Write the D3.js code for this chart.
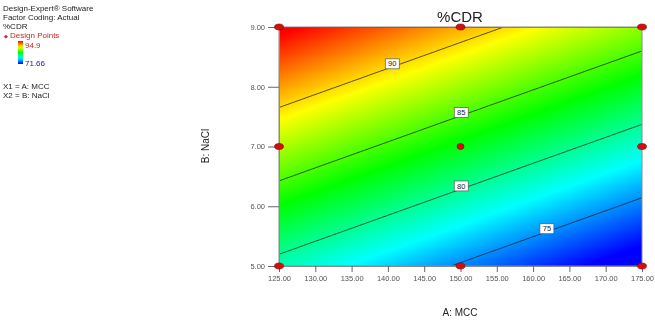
<!DOCTYPE html>
<html><head><meta charset="utf-8">
<script src="https://cdn.jsdelivr.net/npm/d3@7"></script>
<style>
body{margin:0;background:#fff;}
#wrap{position:relative;width:655px;height:323px;}
canvas,svg{position:absolute;left:0;top:0;}
text{font-family:Arial,"Liberation Sans",sans-serif;}
</style></head>
<body><div id="wrap"><canvas id="cv" width="655" height="323"></canvas><svg id="sv" width="655" height="323"></svg></div>
<script>
// Data
const mccLevels = [125, 150, 175];          // A: MCC
const naclLevels = [5, 7, 9];               // B: NaCl
// predicted %CDR at grid (rows = NaCl 5,7,9; cols = MCC 125,150,175)
const predGrid = [
  [79.13, 74.70, 70.28],
  [87.27, 82.84, 78.42],
  [95.41, 90.98, 86.56]
];
const contourLevels = [75, 80, 85, 90];
const contourLabelMCC = [161.9, 150.1, 150.1, 140.6];
const designMCC  = [125, 125, 125, 150, 150, 150, 175, 175, 175];
const designNaCl = [5, 7, 9, 5, 7, 9, 5, 7, 9];
const xTicks = [125,130,135,140,145,150,155,160,165,170,175];
const yTicks = [5,6,7,8,9];
const rangeMin = 71.66, rangeMax = 94.9;

const L = 279, R = 642, T = 27, B = 266;
const x = d3.scaleLinear().domain([125,175]).range([L,R]);
const y = d3.scaleLinear().domain([5,9]).range([B,T]);
const hue = d3.scaleLinear().domain([rangeMin, rangeMax]).range([240, 0]).clamp(true);
const color = v => d3.hsl(hue(v), 1, 0.5).toString();

// bilinear interpolation on the read grid
function pred(a, b) {
  const i = Math.max(0, Math.min(mccLevels.length - 2, d3.bisectRight(mccLevels, a) - 1));
  const j = Math.max(0, Math.min(naclLevels.length - 2, d3.bisectRight(naclLevels, b) - 1));
  const tx = (a - mccLevels[i]) / (mccLevels[i+1] - mccLevels[i]);
  const ty = (b - naclLevels[j]) / (naclLevels[j+1] - naclLevels[j]);
  const z00 = predGrid[j][i], z10 = predGrid[j][i+1], z01 = predGrid[j+1][i], z11 = predGrid[j+1][i+1];
  return z00*(1-tx)*(1-ty) + z10*tx*(1-ty) + z01*(1-tx)*ty + z11*tx*ty;
}

// surface on canvas
const ctx = document.getElementById('cv').getContext('2d');
const img = ctx.createImageData(R - L, B - T);
for (let py = 0; py < B - T; py++) {
  for (let px = 0; px < R - L; px++) {
    const c = d3.rgb(color(pred(x.invert(L + px + 0.5), y.invert(T + py + 0.5))));
    const k = (py * (R - L) + px) * 4;
    img.data[k] = c.r; img.data[k+1] = c.g; img.data[k+2] = c.b; img.data[k+3] = 255;
  }
}
ctx.putImageData(img, L, T);

const svg = d3.select('#sv');

// contours
const nx = 201, ny = 161;
const vals = new Array(nx * ny);
for (let j = 0; j < ny; j++) for (let i = 0; i < nx; i++) {
  vals[j*nx + i] = pred(125 + 50 * i / (nx - 1), 9 - 4 * j / (ny - 1));
}
const contours = d3.contours().size([nx, ny]).thresholds(contourLevels).smooth(true)(vals);
const proj = d3.geoTransform({point: function(px, py) {
  this.stream.point(L + px / (nx - 1) * (R - L), T + py / (ny - 1) * (B - T));
}});
const path = d3.geoPath(proj);
svg.append('clipPath').attr('id','pc').append('rect')
  .attr('x', L + 0.5).attr('y', T + 0.5).attr('width', R - L - 1).attr('height', B - T - 1);
svg.append('g').attr('clip-path','url(#pc)').selectAll('path').data(contours).join('path')
  .attr('d', path).attr('fill','none').attr('stroke','#222').attr('stroke-width',0.8);

// contour labels
contourLevels.forEach((lv, k) => {
  const a = contourLabelMCC[k];
  let best = 5, bd = 1e9;
  for (let b = 5; b <= 9; b += 0.002) { const d = Math.abs(pred(a, b) - lv); if (d < bd) { bd = d; best = b; } }
  const g = svg.append('g').attr('transform', `translate(${x(a)},${y(best) - 2})`);
  g.append('rect').attr('x', -7).attr('y', -5).attr('width', 14).attr('height', 10)
    .attr('fill', '#fff').attr('stroke', '#555').attr('stroke-width', 0.7);
  g.append('text').attr('text-anchor','middle').attr('dy','0.35em')
    .attr('font-size', 7.5).attr('fill', '#222').text(lv);
});

// frame
svg.append('rect').attr('x', L).attr('y', T).attr('width', R - L).attr('height', B - T)
  .attr('fill','none').attr('stroke','#8a8a8a').attr('stroke-width',1);

// axes
const xa = svg.append('g').attr('transform', `translate(0,${B})`)
  .call(d3.axisBottom(x).tickValues(xTicks).tickFormat(d3.format('.2f')).tickSize(6).tickPadding(4));
const ya = svg.append('g').attr('transform', `translate(${L},0)`)
  .call(d3.axisLeft(y).tickValues(yTicks).tickFormat(d3.format('.2f')).tickSize(11).tickPadding(3));
[xa, ya].forEach(a => {
  a.select('.domain').attr('stroke','#8a8a8a');
  a.selectAll('.tick line').attr('stroke','#666');
  a.selectAll('.tick text').attr('fill','#555').attr('font-size', 7.5)
    .attr('font-family','Arial,"Liberation Sans",sans-serif');
});

// design points
svg.append('g').selectAll('ellipse').data(designMCC.map((m, i) => [m, designNaCl[i]])).join('ellipse')
  .attr('cx', d => x(d[0])).attr('cy', d => y(d[1]))
  .attr('rx', d => (d[0] === 150 && d[1] === 7) ? 3.5 : 4.5)
  .attr('ry', 3)
  .attr('fill', '#d01010').attr('stroke', '#8a0000').attr('stroke-width', 0.6);

// titles
svg.append('text').attr('x', 460).attr('y', 22).attr('text-anchor','middle')
  .attr('font-size', 15).attr('fill','#222').text('%CDR');
svg.append('text').attr('x', 460).attr('y', 316).attr('text-anchor','middle')
  .attr('font-size', 10).attr('fill','#222').text('A: MCC');
svg.append('text').attr('transform','translate(209,146) rotate(-90)').attr('text-anchor','middle')
  .attr('font-size', 10).attr('fill','#222').text('B: NaCl');

// legend block
const lg = svg.append('g').attr('font-size', 8).attr('fill', '#222');
[['Design-Expert® Software', 11], ['Factor Coding: Actual', 20], ['%CDR', 29]].forEach(([t, yy]) =>
  lg.append('text').attr('x', 3).attr('y', yy).text(t));
lg.append('text').attr('x', 4).attr('y', 37.5).attr('font-size', 5).attr('fill','#c62828').text('\u25C6');
lg.append('text').attr('x', 10).attr('y', 38).attr('fill','#c62828').text('Design Points');
lg.append('text').attr('x', 3).attr('y', 89).text('X1 = A: MCC');
lg.append('text').attr('x', 3).attr('y', 98).text('X2 = B: NaCl');
const defs = svg.append('defs');
const gr = defs.append('linearGradient').attr('id','lgr').attr('x1',0).attr('y1',0).attr('x2',0).attr('y2',1);
d3.range(0, 1.0001, 0.1).forEach(t => gr.append('stop').attr('offset', t)
  .attr('stop-color', color(rangeMax - t * (rangeMax - rangeMin))));
svg.append('rect').attr('x', 18).attr('y', 41).attr('width', 5).attr('height', 23).attr('fill','url(#lgr)');
svg.append('text').attr('x', 25).attr('y', 48).attr('font-size', 8).attr('fill','#c62828').text(rangeMax);
svg.append('text').attr('x', 25).attr('y', 66).attr('font-size', 8).attr('fill','#2020a0').text(rangeMin);
</script></body></html>
